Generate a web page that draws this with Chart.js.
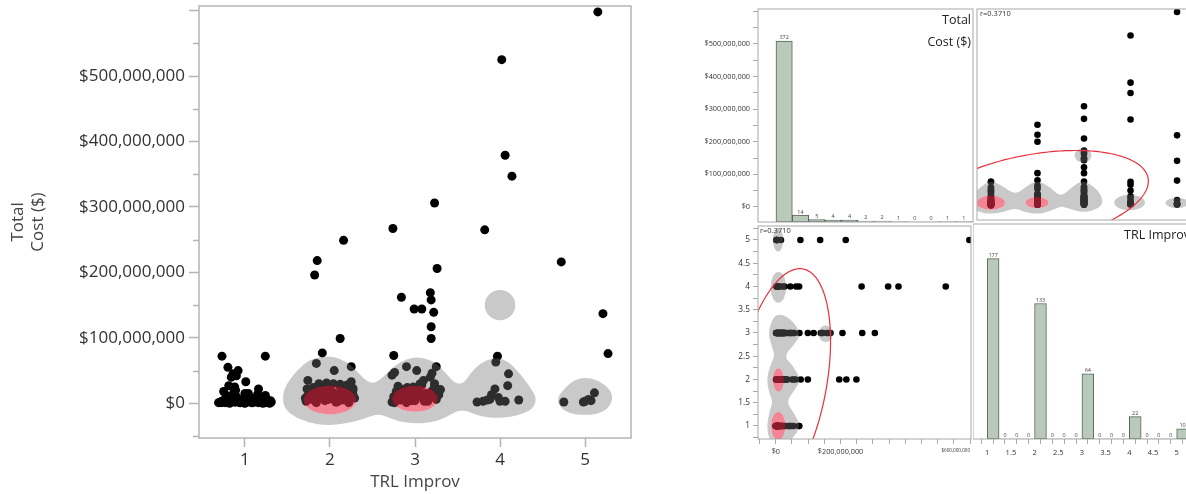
<!DOCTYPE html>
<html>
<head>
<meta charset="utf-8">
<title>Total Cost by TRL Improvement</title>
<script src="https://cdn.jsdelivr.net/npm/chart.js@4.4.0/dist/chart.umd.min.js"></script>
<style>
  html, body { margin: 0; padding: 0; background: #fff; overflow: hidden; }
  body { width: 1186px; height: 494px; position: relative; }
  .panel { position: absolute; }
</style>
</head>
<body>
<div class="panel" style="left:0;top:0;width:640px;height:494px"><canvas id="jitterChart"></canvas></div>
<div class="panel" style="left:690px;top:0;width:285px;height:224px"><canvas id="costHist"></canvas></div>
<div class="panel" style="left:973px;top:0;width:240px;height:224px"><canvas id="costByTrl"></canvas></div>
<div class="panel" style="left:690px;top:222px;width:285px;height:272px"><canvas id="trlByCost"></canvas></div>
<div class="panel" style="left:973px;top:222px;width:240px;height:272px"><canvas id="trlHist"></canvas></div>
<script>
const FONT = '"Open Sans", "Noto Sans", sans-serif';
Chart.defaults.font.family = FONT;
Chart.defaults.color = '#333';

const trlLevels = [1, 2, 3, 4, 5];

// Total cost per project ($M) for each TRL improvement, with the sideways jitter of the left plot
const costTrl1 = [72, 72, 55, 50, 45, 42, 40, 33, 27, 25, 22, 20, 18, 17, 15, 15, 12, 14, 12,
  2, 4, 1, 6, 3, 8, 2, 5, 1, 7, 3, 9, 2, 4, 6, 1, 3, 5, 8, 2, 4, 1, 6, 3, 10, 2, 5, 1, 7, 3, 4, 2, 6, 1, 8, 3, 5, 2, 4, 9,
  1, 3, 2, 5, 0, 4, 2, 6, 1, 3, 0, 2, 4, 1, 3, 5, 2, 0, 1, 3, 2, 4, 1, 2, 0];
const jitterTrl1 = [-.27, .24, -.20, -.08, -.14, -.10, -.16, .01, -.19, -.12, .16, -.11, -.25, -.13, .00, .04, .24, .15, -.22,
  -.29, -.26, -.23, -.20, -.17, -.14, -.11, -.08, -.05, -.02, .01, .04, .07, .10, .13, .16, .19, .22, .25, .28,
  .30, -.28, -.22, -.16, -.10, -.04, .02, .08, .14, .20, .26, -.25, -.13, -.01, .11, .23, -.19, -.07, .05, .17,
  -.31, -.27, -.24, -.21, -.18, -.15, -.12, -.09, -.06, -.03, .00, .03, .06, .09, .12, .15, .18, .21, .24, .27,
  .31, -.20, -.02, .12, .29];

const costTrl2 = [249, 218, 196, 99, 77, 61, 56, 50, 35, 33, 30, 31, 30, 29, 28, 22, 20, 8, 8,
  3, 12, 20, 6, 15, 1, 24, 9, 18, 4, 11, 22, 7, 16, 2, 13, 25, 5, 19, 10, 1, 14, 23, 8, 17, 3, 12, 21, 6, 16, 2, 11, 19, 5, 14, 24, 9, 18, 4, 13];
const jitterTrl2 = [.16, -.15, -.18, .12, -.09, -.16, .25, .05, -.26, .25, -.13, -.04, .04, .12, .20, -.27, .27, -.29, .29,
  -.28, -.26, -.23, -.21, -.18, -.16, -.13, -.11, -.08, -.06, -.03, -.01, .02, .04, .07, .09, .12, .14, .17, .19,
  .22, .24, .27, -.27, -.22, -.17, -.12, -.07, -.02, .03, .08, .13, .18, .23, .27, -.20, -.10, .00, .10, .20];

const costTrl3 = [306, 267, 206, 169, 162, 158, 144, 144, 139, 117, 99, 73, 56, 56, 50, 47, 46, 43, 40, 35, 30, 20,
  2, 10, 18, 26, 5, 14, 22, 1, 9, 17, 25, 4, 12, 20, 28, 7, 15, 3, 11, 19, 27, 6, 13, 21, 1, 8, 16, 24, 4, 12, 30, 3, 9, 15, 22];
const jitterTrl3 = [.23, -.26, .26, .18, -.16, .19, -.01, .08, .22, .19, .19, -.25, .25, -.10, .02, -.24, .20, -.27, .18, .10, .23, .27,
  -.27, -.25, -.22, -.20, -.17, -.15, -.12, -.10, -.07, -.05, -.02, .00, .03, .05, .08, .10, .13, .15, .18, .20,
  .23, .25, .28, .30, -.24, -.19, -.14, -.09, -.04, .01, .06, .11, .16, .21, .26];

const costTrl4 = [525, 379, 347, 265, 72, 63, 45, 27, 22, 13, 9, 6, 5, 3, 3, 2, 3, 5];
const jitterTrl4 = [.02, .06, .14, -.18, -.03, -.05, .10, .09, -.06, -.10, -.02, -.12, .22, -.20, .06, -.27, .00, -.15];

const costTrl5 = [598, 216, 137, 76, 2, 2, 6, 16, 4, 3];
const jitterTrl5 = [.15, -.28, .21, .27, -.25, -.02, .04, .11, .07, .00];

const costGroups = [costTrl1, costTrl2, costTrl3, costTrl4, costTrl5];
const jitterGroups = [jitterTrl1, jitterTrl2, jitterTrl3, jitterTrl4, jitterTrl5];

// histogram bins for the diagonal of the matrix
const costBinStarts = [0, 50, 100, 150, 200, 250, 300, 350, 400, 450, 500, 550];
const costBinCounts = [372, 14, 5, 4, 4, 2, 2, 1, 0, 0, 1, 1];
const trlBinStarts = [1, 1.25, 1.5, 1.75, 2, 2.25, 2.5, 2.75, 3, 3.25, 3.5, 3.75, 4, 4.25, 4.5, 4.75, 5];
const trlBinCounts = [177, 0, 0, 0, 133, 0, 0, 0, 64, 0, 0, 0, 22, 0, 0, 0, 10];

// axis ticks
const costMajorTicks = [0, 100, 200, 300, 400, 500, 600];
const costMinorTicks = [-50, 50, 150, 250, 350, 450, 550];
const costMatrixTicks = [-50, 0, 50, 100, 150, 200, 250, 300, 350, 400, 450, 500, 550, 600];
const costSideLabels = [0, 100, 200, 300, 400, 500];
const costBottomLabels = [0, 200, 600];
const trlMatrixTicks = [0.75, 1, 1.25, 1.5, 1.75, 2, 2.25, 2.5, 2.75, 3, 3.25, 3.5, 3.75, 4, 4.25, 4.5, 4.75, 5, 5.25];

// bivariate fit: correlation and cost mean / std dev ($M)
const correlation = 0.3710;
const costMoments = [18.3, 61.6];

// density contours as [TRL, cost $M] outlines and [TRL, cost, half TRL, half cost] spots
const jitterShade = [
  [1.44, 12], [1.49, 30], [1.61, 50], [1.76, 67], [1.96, 73], [2.14, 68], [2.27, 56], [2.39, 38], [2.49, 30],
  [2.59, 35], [2.74, 56], [2.90, 68], [3.06, 71], [3.24, 63], [3.37, 45], [3.47, 30], [3.57, 30], [3.65, 45],
  [3.76, 61], [3.92, 70], [4.08, 66], [4.24, 45], [4.37, 22], [4.43, 7], [4.39, -8], [4.24, -18], [4.00, -23],
  [3.76, -20], [3.61, -11], [3.49, -11], [3.37, -22], [3.18, -30], [2.98, -31], [2.78, -27], [2.63, -18],
  [2.53, -17], [2.41, -23], [2.20, -31], [1.96, -34], [1.73, -29], [1.55, -18], [1.46, -6]];
const jitterShadeTrl5 = [
  [4.67, 7], [4.75, 22], [4.86, 35], [5.00, 40], [5.16, 35], [5.29, 22], [5.33, 7], [5.27, -8],
  [5.14, -17], [4.98, -18], [4.82, -16], [4.71, -7]];
const jitterShadeSpots = [[4.0, 150, 0.18, 23]];
const jitterCores = [[2.0, 5, 0.31, 22], [3.0, 7, 0.27, 20]];

const matrixShade = [
  [0.55, 20], [0.72, 50], [0.99, 78], [1.27, 57], [1.52, 32], [1.76, 57], [1.99, 78], [2.29, 54], [2.50, 24],
  [2.75, 57], [2.98, 78], [3.27, 52], [3.42, 16], [3.34, -9], [2.98, -25], [2.61, -7], [2.50, -4], [2.25, -20],
  [1.99, -28], [1.69, -20], [1.52, -9], [1.30, -20], [0.99, -28], [0.70, -20], [0.55, -5]];
const matrixShadeSpots = [[3.98, 8, 0.33, 24], [5.0, 7, 0.25, 16], [2.98, 154, 0.18, 22]];
const matrixCores = [[1.0, 7.5, 0.30, 22], [1.99, 8, 0.25, 17]];

const money = v => '$' + Math.round(v * 1e6).toLocaleString('en-US');

// helpers for drawing the contour fills through the chart scales
function smoothLoop(ctx, pts) {
  const n = pts.length;
  const mid = (p, q) => [(p[0] + q[0]) / 2, (p[1] + q[1]) / 2];
  const start = mid(pts[n - 1], pts[0]);
  ctx.moveTo(start[0], start[1]);
  for (let i = 0; i < n; i++) {
    const next = mid(pts[i], pts[(i + 1) % n]);
    ctx.quadraticCurveTo(pts[i][0], pts[i][1], next[0], next[1]);
  }
  ctx.closePath();
}

function ellipsePath(ctx, spot, px) {
  const c = px(spot[0], spot[1]);
  const e = px(spot[0] + spot[2], spot[1] + spot[3]);
  const rx = Math.abs(e[0] - c[0]), ry = Math.abs(e[1] - c[1]);
  ctx.moveTo(c[0] + rx, c[1]);
  ctx.ellipse(c[0], c[1], rx, ry, 0, 0, Math.PI * 2);
}

function pixelMapper(chart, swap) {
  const xs = chart.scales.x, ys = chart.scales.y;
  return (t, c) => swap
    ? [xs.getPixelForValue(c), ys.getPixelForValue(t)]
    : [xs.getPixelForValue(t), ys.getPixelForValue(c)];
}

const contourPlugin = {
  id: 'contours',
  afterDatasetsDraw(chart, args, opts) {
    const { ctx, chartArea: a } = chart;
    const px = pixelMapper(chart, opts.swap);
    ctx.save();
    ctx.beginPath();
    ctx.rect(a.left, a.top, a.right - a.left, a.bottom - a.top);
    ctx.clip();
    // grey outer level, with the red cores cut out of it
    ctx.beginPath();
    opts.outlines.forEach(o => smoothLoop(ctx, o.map(p => px(p[0], p[1]))));
    opts.spots.forEach(s => ellipsePath(ctx, s, px));
    opts.cores.forEach(s => ellipsePath(ctx, s, px));
    ctx.fillStyle = 'rgba(115,115,115,0.39)';
    ctx.fill('evenodd');
    ctx.beginPath();
    opts.cores.forEach(s => ellipsePath(ctx, s, px));
    ctx.fillStyle = 'rgba(235,46,71,0.59)';
    ctx.fill();
    ctx.restore();
  }
};

// 95% density ellipse from the TRL histogram and the cost moments
const trlTotal = trlBinCounts.reduce((s, v) => s + v, 0);
const trlMean = trlBinStarts.reduce((s, v, i) => s + v * trlBinCounts[i], 0) / trlTotal;
const trlSd = Math.sqrt(trlBinStarts.reduce((s, v, i) => s + trlBinCounts[i] * (v - trlMean) ** 2, 0) / (trlTotal - 1));

const ellipsePlugin = {
  id: 'densityEllipse',
  afterDatasetsDraw(chart, args, opts) {
    const { ctx, chartArea: a } = chart;
    const px = pixelMapper(chart, opts.swap);
    const k = Math.sqrt(-2 * Math.log(0.05));
    const r = correlation;
    ctx.save();
    ctx.beginPath();
    ctx.rect(a.left, a.top, a.right - a.left, a.bottom - a.top);
    ctx.clip();
    ctx.beginPath();
    for (let i = 0; i <= 240; i++) {
      const ang = i / 240 * Math.PI * 2;
      const t = trlMean + k * trlSd * Math.cos(ang);
      const c = costMoments[0] + k * costMoments[1] * (r * Math.cos(ang) + Math.sqrt(1 - r * r) * Math.sin(ang));
      const p = px(t, c);
      if (i === 0) ctx.moveTo(p[0], p[1]); else ctx.lineTo(p[0], p[1]);
    }
    ctx.strokeStyle = '#e8303f';
    ctx.lineWidth = 1.2;
    ctx.stroke();
    ctx.restore();
  }
};

const framePlugin = {
  id: 'frame',
  afterDraw(chart, args, opts) {
    const { ctx, chartArea: a } = chart;
    ctx.save();
    ctx.strokeStyle = opts.color;
    ctx.lineWidth = opts.width;
    ctx.strokeRect(a.left, a.top, a.right - a.left, a.bottom - a.top);
    if (opts.minor) {
      const ys = chart.scales.y;
      ctx.beginPath();
      opts.minor.forEach(v => {
        const y = Math.round(ys.getPixelForValue(v)) + 0.5;
        ctx.moveTo(a.left - opts.minorLength, y);
        ctx.lineTo(a.left, y);
      });
      ctx.stroke();
    }
    ctx.restore();
  }
};

const textPlugin = {
  id: 'cellText',
  afterDraw(chart, args, opts) {
    const { ctx, chartArea: a } = chart;
    ctx.save();
    opts.items.forEach(it => {
      ctx.font = it.size + 'px ' + FONT;
      ctx.fillStyle = it.color || '#222';
      ctx.textAlign = it.align;
      ctx.textBaseline = 'middle';
      const x = it.align === 'right' ? a.right - it.dx : a.left + it.dx;
      ctx.fillText(it.text, x, a.top + it.dy);
    });
    ctx.restore();
  }
};

const countLabelPlugin = {
  id: 'countLabels',
  afterDatasetsDraw(chart, args, opts) {
    const { ctx } = chart;
    const meta = chart.getDatasetMeta(0);
    const data = chart.data.datasets[0].data;
    ctx.save();
    ctx.font = opts.size + 'px ' + FONT;
    ctx.fillStyle = '#444';
    ctx.textAlign = 'center';
    ctx.textBaseline = 'bottom';
    meta.data.forEach((bar, i) => ctx.fillText(String(data[i].y), bar.x, bar.y - 0.5));
    ctx.restore();
  }
};

const setTicks = values => scale => { scale.ticks = values.map(v => ({ value: v })); };
// fixed axis box size, without the extra room Chart.js keeps for end labels
const fixWidth = w => s => { s.width = w; s.paddingTop = 0; s.paddingBottom = 0; };
const fixHeight = h => s => { s.height = h; s.paddingLeft = 0; s.paddingRight = 0; };
const noTooltip = { legend: { display: false }, tooltip: { enabled: false } };

// jittered scatter of total cost against TRL improvement
new Chart(document.getElementById('jitterChart'), {
  type: 'scatter',
  data: {
    datasets: trlLevels.map((t, i) => ({
      data: costGroups[i].map((c, j) => ({ x: t + jitterGroups[i][j], y: c })),
      pointRadius: 4.5,
      pointBackgroundColor: '#000',
      pointBorderWidth: 0
    }))
  },
  options: {
    responsive: true,
    maintainAspectRatio: false,
    animation: false,
    layout: { padding: { top: 6, right: 9, left: 0, bottom: 0 } },
    plugins: {
      ...noTooltip,
      contours: { swap: false, outlines: [jitterShade, jitterShadeTrl5], spots: jitterShadeSpots, cores: jitterCores },
      frame: { color: '#b4b4b4', width: 1.5, minor: costMinorTicks, minorLength: 6 }
    },
    scales: {
      x: {
        type: 'linear', min: 0.46, max: 5.54,
        afterBuildTicks: setTicks(trlLevels),
        afterFit: fixHeight(56),
        border: { display: false },
        grid: { drawOnChartArea: false, tickLength: 9, tickColor: '#b4b4b4', tickWidth: 1.5 },
        ticks: { autoSkip: false, maxRotation: 0, padding: 3, color: '#333', font: { size: 17 } },
        title: { display: true, text: 'TRL Improv', color: '#444', font: { size: 17 }, padding: { top: 0, bottom: 2 } }
      },
      y: {
        type: 'linear', min: -53, max: 607,
        afterBuildTicks: setTicks(costMajorTicks),
        afterFit: fixWidth(199),
        border: { display: false },
        grid: { drawOnChartArea: false, tickLength: 10, tickColor: '#b4b4b4', tickWidth: 1.5 },
        ticks: { autoSkip: false, padding: 4, color: '#333', font: { size: 17 }, callback: v => v >= 600 ? '' : money(v) },
        title: { display: true, text: ['Total', 'Cost ($)'], color: '#444', font: { size: 17 }, padding: { top: 8, bottom: 0 } }
      }
    }
  },
  plugins: [contourPlugin, framePlugin]
});

const barStyle = {
  backgroundColor: '#bacaba',
  borderColor: '#55635a',
  borderWidth: ctx => (ctx.raw && ctx.raw.y > 0 ? 1 : 0),
  borderSkipped: false,
  barPercentage: 1,
  categoryPercentage: 1,
  grouped: false,
  xAxisID: 'x',
  yAxisID: 'count'
};

// matrix: cost histogram (top left)
new Chart(document.getElementById('costHist'), {
  type: 'bar',
  data: {
    datasets: [{
      ...barStyle,
      data: costBinStarts.map((b, i) => ({ x: b + (costBinStarts[1] - costBinStarts[0]) / 2, y: costBinCounts[i] }))
    }]
  },
  options: {
    responsive: true,
    maintainAspectRatio: false,
    animation: false,
    layout: { padding: { top: 9, right: 2, left: 0, bottom: 2 } },
    plugins: {
      ...noTooltip,
      frame: { color: '#a8a8a8', width: 1 },
      countLabels: { size: 5.5 },
      cellText: { items: [
        { text: 'Total', align: 'right', dx: 2, dy: 11, size: 12.5 },
        { text: 'Cost ($)', align: 'right', dx: 2, dy: 33, size: 12.5 }
      ] }
    },
    scales: {
      x: { type: 'linear', display: false, offset: false, min: -55, max: 603 },
      y: {
        type: 'linear', position: 'left', min: -46, max: 607,
        afterBuildTicks: setTicks(costMatrixTicks.filter(v => v > -46 && v < 607)),
        afterFit: fixWidth(68),
        border: { display: false },
        grid: { drawOnChartArea: false, tickLength: 5, tickColor: '#a8a8a8' },
        ticks: { autoSkip: false, padding: 3, color: '#333', font: { size: 7.3 },
          callback: v => costSideLabels.includes(v) ? money(v) : '' }
      },
      count: { axis: 'y', position: 'right', display: false, min: 0, max: 438 }
    }
  },
  plugins: [framePlugin, countLabelPlugin, textPlugin]
});

const matrixPoints = { pointRadius: 3.3, pointBackgroundColor: '#000', pointBorderWidth: 0 };

// matrix: cost against TRL (top right)
new Chart(document.getElementById('costByTrl'), {
  type: 'scatter',
  data: {
    datasets: trlLevels.map((t, i) => ({ ...matrixPoints, data: costGroups[i].map(c => ({ x: t, y: c })) }))
  },
  options: {
    responsive: true,
    maintainAspectRatio: false,
    animation: false,
    layout: { padding: { top: 9, right: 15, left: 0, bottom: 2 } },
    plugins: {
      ...noTooltip,
      contours: { swap: false, outlines: [matrixShade], spots: matrixShadeSpots, cores: matrixCores },
      densityEllipse: { swap: false },
      frame: { color: '#a8a8a8', width: 1 },
      cellText: { items: [{ text: 'r=0.3710', align: 'left', dx: 3, dy: 5, size: 7.5, color: '#333' }] }
    },
    scales: {
      x: { type: 'linear', display: false, min: 0.70, max: 5.45 },
      y: { type: 'linear', display: false, min: -46, max: 607 }
    }
  },
  plugins: [contourPlugin, ellipsePlugin, framePlugin, textPlugin]
});

// matrix: TRL against cost (bottom left)
new Chart(document.getElementById('trlByCost'), {
  type: 'scatter',
  data: {
    datasets: trlLevels.map((t, i) => ({ ...matrixPoints, data: costGroups[i].map(c => ({ x: c, y: t })) }))
  },
  options: {
    responsive: true,
    maintainAspectRatio: false,
    animation: false,
    layout: { padding: { top: 2, right: 2, left: 0, bottom: 0 } },
    plugins: {
      ...noTooltip,
      contours: { swap: true, outlines: [matrixShade], spots: matrixShadeSpots, cores: matrixCores },
      densityEllipse: { swap: true },
      frame: { color: '#a8a8a8', width: 1 },
      cellText: { items: [{ text: 'r=0.3710', align: 'left', dx: 2, dy: 5, size: 7.5, color: '#333' }] }
    },
    scales: {
      x: {
        type: 'linear', min: -55, max: 603,
        afterBuildTicks: setTicks(costMatrixTicks.filter(v => v > -55 && v <= 603)),
        afterFit: fixHeight(55),
        border: { display: false },
        grid: { drawOnChartArea: false, tickLength: 5, tickColor: '#a8a8a8' },
        ticks: { autoSkip: false, maxRotation: 0, padding: 4, align: 'inner', color: '#333',
          font: ctx => ({ size: ctx.tick && ctx.tick.value === 600 ? 4.6 : 7.3 }),
          callback: v => costBottomLabels.includes(v) ? money(v) : '' }
      },
      y: {
        type: 'linear', min: 0.72, max: 5.30,
        afterBuildTicks: setTicks(trlMatrixTicks.filter(v => v > 0.72 && v < 5.30)),
        afterFit: fixWidth(68),
        border: { display: false },
        grid: { drawOnChartArea: false, tickLength: 5, tickColor: '#a8a8a8' },
        ticks: { autoSkip: false, padding: 3, color: '#333', font: { size: 8.3 },
          callback: v => (v * 2) % 1 === 0 ? String(v) : '' }
      }
    }
  },
  plugins: [contourPlugin, ellipsePlugin, framePlugin, textPlugin]
});

// matrix: TRL histogram (bottom right)
new Chart(document.getElementById('trlHist'), {
  type: 'bar',
  data: {
    datasets: [{
      ...barStyle,
      data: trlBinStarts.map((b, i) => ({ x: b + (trlBinStarts[1] - trlBinStarts[0]) / 2, y: trlBinCounts[i] }))
    }]
  },
  options: {
    responsive: true,
    maintainAspectRatio: false,
    animation: false,
    layout: { padding: { top: 2, right: 15, left: 0, bottom: 0 } },
    plugins: {
      ...noTooltip,
      frame: { color: '#a8a8a8', width: 1 },
      countLabels: { size: 5.5 },
      cellText: { items: [{ text: 'TRL Improv', align: 'right', dx: 8, dy: 11, size: 12.5 }] }
    },
    scales: {
      x: {
        type: 'linear', offset: false, min: 0.70, max: 5.45,
        afterBuildTicks: setTicks(trlMatrixTicks),
        afterFit: fixHeight(55),
        border: { display: false },
        grid: { drawOnChartArea: false, tickLength: 5, tickColor: '#a8a8a8' },
        ticks: { autoSkip: false, maxRotation: 0, padding: 4, color: '#333', font: { size: 7.5 },
          callback: v => (v * 2) % 1 === 0 ? String(v) : '' }
      },
      count: { axis: 'y', position: 'right', display: false, min: 0, max: 211 }
    }
  },
  plugins: [framePlugin, countLabelPlugin, textPlugin]
});
</script>
</body>
</html>
